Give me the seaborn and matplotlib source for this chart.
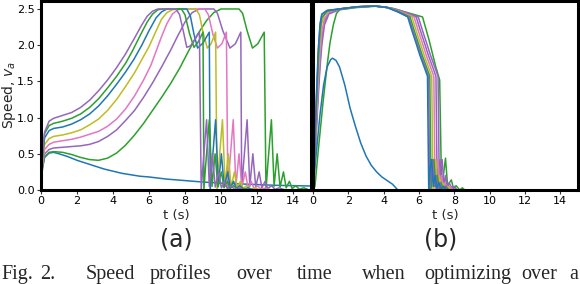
import numpy as np
import pandas as pd
import matplotlib
matplotlib.use('Agg')
import matplotlib.pyplot as plt
import seaborn as sns

# colours used in the figure
BLUE = '#1f77b4'
GREEN = '#2ca02c'
PURPLE = '#9467bd'
YELLOW = '#bcbd22'
PINK = '#e377c2'

# ---- panel (a): speed profiles, (t, v) ----
a_blue_decay = [(0,0),(0.08,0.3),(0.2,0.45),(0.45,0.51),(0.7,0.52),(1.0,0.5),(1.5,0.46),(2.0,0.41),(2.5,0.37),(3.0,0.33),(3.5,0.29),(4.0,0.26),(4.5,0.23),(5.0,0.21),(5.5,0.19),(6.0,0.18),(7.0,0.15),(8.0,0.13),(9.0,0.11),(10.0,0.095),(11.0,0.085),(12.0,0.075),(13.0,0.065),(14.0,0.06),(15.0,0.055)]

a_green_slow = [(0,0),(0.08,0.3),(0.2,0.46),(0.45,0.52),(0.7,0.53),(1.2,0.52),(1.7,0.49),(2.2,0.45),(2.7,0.42),(3.2,0.41),(3.7,0.44),(4.2,0.51),(4.7,0.62),(5.2,0.76),(5.7,0.92),(6.2,1.1),(6.7,1.28),(7.2,1.47),(7.7,1.68),(8.2,1.92),(8.7,2.15),(9.2,2.34),(9.6,2.45),(10.0,2.5),(11.0,2.5),(11.2,2.44),(11.45,2.2),(11.75,1.96),(12.05,2.02),(12.4,2.18),(12.5,0),(12.6,0.35),(12.8,0.97),(12.95,0.05),(13.12,0.5),(13.28,0.04),(13.47,0.25),(13.62,0.03),(13.8,0.12),(13.95,0.02),(14.15,0.06),(14.35,0.01),(14.6,0.03),(14.9,0.0),(15,0)]

a_purple_slow = [(0,0),(0.08,0.33),(0.2,0.5),(0.45,0.56),(0.7,0.58),(1.2,0.59),(1.7,0.6),(2.2,0.61),(2.7,0.63),(3.2,0.67),(3.7,0.74),(4.2,0.83),(4.7,0.96),(5.2,1.1),(5.7,1.28),(6.2,1.48),(6.7,1.7),(7.2,1.93),(7.6,2.13),(8.0,2.32),(8.4,2.45),(8.8,2.5),(9.6,2.5),(9.8,2.44),(10.1,2.2),(10.5,1.96),(10.8,2.02),(11.1,2.18),(11.15,0),(11.25,0.35),(11.45,0.97),(11.6,0.05),(11.77,0.5),(11.93,0.04),(12.12,0.25),(12.27,0.03),(12.45,0.12),(12.6,0.02),(12.8,0.06),(13.0,0.01),(13.25,0.03),(13.55,0.0),(15,0)]

a_pink = [(0,0),(0.08,0.36),(0.2,0.56),(0.45,0.63),(0.7,0.66),(1.2,0.68),(1.7,0.7),(2.2,0.73),(2.7,0.77),(3.2,0.81),(3.7,0.88),(4.2,0.98),(4.7,1.12),(5.2,1.3),(5.7,1.52),(6.1,1.72),(6.4,1.92),(6.7,2.12),(7.0,2.3),(7.3,2.43),(7.6,2.49),(7.9,2.5),(9.1,2.5),(9.3,2.42),(9.55,2.15),(9.8,1.96),(10.05,2.02),(10.3,2.18),(10.38,0),(10.48,0.35),(10.68,0.97),(10.83,0.05),(11.0,0.5),(11.16,0.04),(11.35,0.25),(11.5,0.03),(11.68,0.12),(11.83,0.02),(12.03,0.06),(12.23,0.01),(12.48,0.03),(12.78,0.0),(15,0)]

a_yellow = [(0,0),(0.08,0.4),(0.2,0.63),(0.45,0.71),(0.7,0.74),(1.2,0.76),(1.7,0.79),(2.2,0.83),(2.7,0.9),(3.2,0.98),(3.7,1.1),(4.2,1.25),(4.7,1.43),(5.2,1.62),(5.6,1.8),(6.0,1.98),(6.4,2.2),(6.7,2.36),(7.0,2.45),(7.3,2.49),(7.6,2.5),(8.6,2.5),(8.8,2.42),(9.0,2.18),(9.24,1.96),(9.45,2.02),(9.7,2.18),(9.78,0),(9.88,0.35),(10.08,0.97),(10.23,0.05),(10.4,0.5),(10.56,0.04),(10.75,0.25),(10.9,0.03),(11.08,0.12),(11.23,0.02),(11.43,0.06),(11.63,0.01),(11.88,0.03),(12.18,0.0),(15,0)]

a_blue = [(0,0),(0.08,0.45),(0.2,0.72),(0.45,0.82),(0.7,0.85),(1.2,0.87),(1.7,0.91),(2.2,0.97),(2.7,1.05),(3.2,1.16),(3.7,1.3),(4.2,1.46),(4.7,1.63),(5.15,1.8),(5.6,2.0),(6.0,2.2),(6.4,2.38),(6.7,2.46),(7.0,2.5),(8.1,2.5),(8.3,2.4),(8.5,2.15),(8.7,1.96),(9.0,2.03),(9.35,2.18),(9.4,0),(9.5,0.35),(9.7,0.97),(9.85,0.05),(10.02,0.5),(10.18,0.04),(10.37,0.25),(10.52,0.03),(10.7,0.12),(10.85,0.02),(11.05,0.06),(11.25,0.01),(11.5,0.03),(11.8,0.0),(15,0)]

a_green = [(0,0),(0.08,0.48),(0.2,0.78),(0.45,0.89),(0.7,0.92),(1.2,0.95),(1.7,0.99),(2.2,1.05),(2.7,1.14),(3.2,1.26),(3.7,1.41),(4.2,1.57),(4.7,1.75),(5.1,1.93),(5.5,2.13),(5.9,2.32),(6.2,2.43),(6.5,2.49),(6.8,2.5),(7.8,2.5),(8.0,2.42),(8.25,2.16),(8.5,1.97),(8.75,2.05),(9.0,2.18),(9.05,0),(9.15,0.35),(9.35,0.97),(9.5,0.05),(9.67,0.5),(9.83,0.04),(10.02,0.25),(10.17,0.03),(10.35,0.12),(10.5,0.02),(10.7,0.06),(10.9,0.01),(11.15,0.03),(11.45,0.0),(15,0)]

a_purple = [(0,0),(0.08,0.5),(0.2,0.8),(0.45,0.95),(0.7,0.99),(1.2,1.03),(1.7,1.07),(2.2,1.14),(2.7,1.24),(3.2,1.37),(3.7,1.52),(4.2,1.69),(4.7,1.88),(5.2,2.1),(5.6,2.28),(5.9,2.4),(6.2,2.47),(6.5,2.5),(7.5,2.5),(7.7,2.42),(7.9,2.2),(8.1,1.97),(8.3,1.99),(8.55,2.08),(8.8,2.18),(8.9,0),(9.0,0.35),(9.2,0.97),(9.35,0.05),(9.52,0.5),(9.68,0.04),(9.87,0.25),(10.02,0.03),(10.2,0.12),(10.35,0.02),(10.55,0.06),(10.75,0.01),(11.0,0.03),(11.3,0.0),(15,0)]

# ---- panel (b) ----
b_blue_bump = [(0,0),(0.2,0.55),(0.4,1.05),(0.6,1.45),(0.8,1.7),(1.0,1.8),(1.1,1.82),(1.3,1.79),(1.5,1.7),(1.8,1.45),(2.1,1.13),(2.4,0.88),(2.7,0.65),(3.0,0.47),(3.3,0.34),(3.6,0.25),(3.9,0.18),(4.2,0.13),(4.5,0.08),(4.8,0.0)]

b_blue = [(0,0),(0.1,0.65),(0.2,1.35),(0.3,1.95),(0.4,2.3),(0.5,2.43),(0.8,2.48),(1.5,2.5),(2.5,2.53),(3.5,2.54),(4.2,2.52),(4.8,2.46),(5.36,2.39),(5.6,2.2),(5.83,2.03),(6.05,1.86),(6.29,1.7),(6.48,1.57),(6.55,0),(6.63,0.3),(6.71,0.42),(6.81,0.05),(6.91,0.2),(7.01,0.02),(7.11,0.1),(7.25,0.02),(7.4,0.05),(7.55,0)]

b_purple1 = [(0,0),(0.1,0.6),(0.2,1.3),(0.3,1.9),(0.4,2.27),(0.5,2.42),(0.8,2.48),(1.5,2.5),(2.5,2.53),(3.5,2.54),(4.2,2.52),(4.8,2.46),(5.42,2.39),(5.66,2.2),(5.89,2.03),(6.11,1.86),(6.35,1.7),(6.54,1.57),(6.61,0),(6.69,0.3),(6.77,0.42),(6.87,0.05),(6.97,0.2),(7.07,0.02),(7.17,0.1),(7.31,0.02),(7.46,0.05),(7.61,0)]

b_green1 = [(0,0),(0.1,0.55),(0.2,1.2),(0.3,1.8),(0.4,2.2),(0.5,2.38),(0.8,2.47),(1.5,2.5),(2.5,2.53),(3.5,2.54),(4.2,2.52),(4.8,2.47),(5.49,2.39),(5.73,2.2),(5.96,2.03),(6.18,1.86),(6.42,1.7),(6.61,1.57),(6.68,0),(6.76,0.3),(6.84,0.42),(6.94,0.05),(7.04,0.2),(7.14,0.02),(7.24,0.1),(7.38,0.02),(7.53,0.05),(7.68,0)]

b_yellow = [(0,0),(0.1,0.5),(0.2,1.1),(0.3,1.65),(0.4,2.05),(0.5,2.3),(0.65,2.42),(0.9,2.47),(1.5,2.5),(2.5,2.53),(3.5,2.54),(4.2,2.52),(4.8,2.47),(5.6,2.39),(5.84,2.2),(6.07,2.03),(6.29,1.86),(6.53,1.7),(6.72,1.57),(6.79,0),(6.87,0.3),(6.95,0.42),(7.05,0.05),(7.15,0.2),(7.25,0.02),(7.35,0.1),(7.49,0.02),(7.64,0.05),(7.79,0)]

b_pink = [(0,0),(0.1,0.45),(0.2,1.0),(0.3,1.5),(0.4,1.9),(0.5,2.18),(0.65,2.37),(0.9,2.46),(1.5,2.5),(2.5,2.53),(3.5,2.54),(4.2,2.52),(4.8,2.48),(5.72,2.39),(5.96,2.2),(6.19,2.03),(6.41,1.86),(6.65,1.7),(6.84,1.57),(6.91,0),(6.99,0.3),(7.07,0.42),(7.17,0.05),(7.27,0.2),(7.37,0.02),(7.47,0.1),(7.61,0.02),(7.76,0.05),(7.91,0)]

b_purple2 = [(0,0),(0.1,0.42),(0.2,0.92),(0.3,1.4),(0.4,1.8),(0.5,2.1),(0.65,2.33),(0.9,2.45),(1.5,2.5),(2.5,2.53),(3.5,2.54),(4.2,2.52),(4.8,2.48),(5.84,2.39),(6.08,2.2),(6.31,2.03),(6.53,1.86),(6.77,1.7),(6.96,1.57),(7.03,0),(7.11,0.3),(7.19,0.42),(7.29,0.05),(7.39,0.2),(7.49,0.02),(7.59,0.1),(7.73,0.02),(7.88,0.05),(8.03,0)]

b_purple3 = [(0,0),(0.1,0.4),(0.2,0.85),(0.3,1.3),(0.4,1.7),(0.5,2.0),(0.65,2.28),(0.9,2.43),(1.5,2.49),(2.5,2.53),(3.5,2.54),(4.2,2.52),(4.8,2.49),(5.96,2.39),(6.2,2.2),(6.43,2.03),(6.65,1.86),(6.89,1.7),(7.08,1.57),(7.15,0),(7.23,0.3),(7.31,0.42),(7.41,0.05),(7.51,0.2),(7.61,0.02),(7.71,0.1),(7.85,0.02),(8.0,0.05),(8.15,0)]

b_green2 = [(0,0),(0.11,0.05),(0.3,0.55),(0.58,1.24),(0.8,1.72),(0.96,2.03),(1.15,2.28),(1.33,2.44),(1.52,2.49),(2.5,2.52),(3.7,2.54),(4.5,2.51),(5.2,2.46),(6.2,2.39),(6.57,2.07),(6.95,1.7),(7.17,1.52),(7.28,0),(7.38,0.2),(7.5,0.44),(7.62,0.05),(7.72,0.1),(7.83,0.14),(7.95,0.02),(8.1,0.06),(8.3,0.0),(8.45,0.03),(8.6,0)]

panel_a = [(a_blue_decay, BLUE), (a_green_slow, GREEN), (a_purple_slow, PURPLE),
           (a_pink, PINK), (a_yellow, YELLOW), (a_blue, BLUE), (a_green, GREEN),
           (a_purple, PURPLE)]
panel_b = [(b_green2, GREEN), (b_purple3, PURPLE), (b_purple2, PURPLE), (b_pink, PINK),
           (b_yellow, YELLOW), (b_green1, GREEN), (b_purple1, PURPLE), (b_blue, BLUE),
           (b_blue_bump, BLUE)]

xticks = [0, 2, 4, 6, 8, 10, 12, 14]
yticks = [0.0, 0.5, 1.0, 1.5, 2.0, 2.5]
caption_words = ['Fig.', '2.', 'Speed', 'profiles', 'over', 'time', 'when', 'optimizing', 'over', 'a']
caption_x = [1, 40, 86, 150, 236, 297, 362, 424, 521, 569]

sns.set_style('ticks')
plt.rcParams['font.family'] = ['DejaVu Sans']

fig = plt.figure(figsize=(5.8, 2.84), dpi=100)
W, H = 580.0, 284.0
ax1 = fig.add_axes([41/W, 1-190/H, 270/W, 189/H])
ax2 = fig.add_axes([313/W, 1-190/H, 265/W, 189/H])

for ax, curves in [(ax1, panel_a), (ax2, panel_b)]:
    for pts, col in curves:
        d = pd.DataFrame(pts, columns=['t', 'v'])
        sns.lineplot(data=d, x='t', y='v', color=col, lw=1.1, estimator=None,
                     sort=False, ax=ax)
    ax.set_xlim(0, 15)
    ax.set_ylim(0, 2.61)
    ax.set_xticks(xticks)
    ax.set_yticks(yticks)
    for s in ax.spines.values():
        s.set_visible(True)
        s.set_linewidth(2.2)
        s.set_color('black')
    ax.tick_params(labelsize=8, length=3, width=0.8, pad=1.5, colors='#333333',
                   labelcolor='black')
    ax.set_xlabel('t (s)', fontsize=9.5, labelpad=2)
    ax.set_ylabel('')

ax1.set_ylabel('Speed, $v_a$', fontsize=10)
ax1.yaxis.set_label_coords(-0.085, 0.5)
ax2.tick_params(axis='y', left=False, labelleft=False)

fig.text(176/W, 1-239/H, '(a)', fontsize=17, ha='center', va='center')
fig.text(441/W, 1-239/H, '(b)', fontsize=17, ha='center', va='center')

# caption line along the bottom edge
for word, x in zip(caption_words, caption_x):
    fig.text(x/W, 1-279/H, word, fontsize=14.5, family='Liberation Serif',
             ha='left', va='baseline')

fig.savefig('out.png', dpi=100)
